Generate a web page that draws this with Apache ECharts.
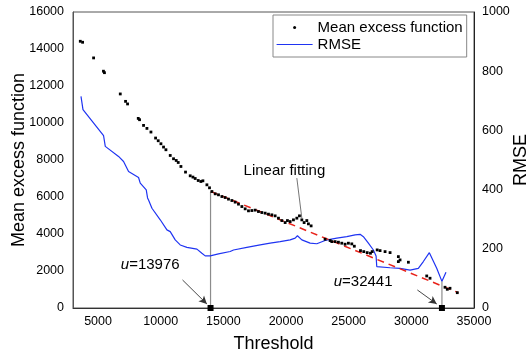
<!DOCTYPE html>
<html>
<head>
<meta charset="utf-8">
<script src="https://cdn.jsdelivr.net/npm/echarts@6/dist/echarts.min.js"></script>
<style>
  html, body { margin: 0; padding: 0; background: #fff; }
  #chart { width: 529px; height: 357px; }
</style>
</head>
<body>
<div id="chart"></div>
<script>
// Mean excess function: threshold and mean excess values
const meThreshold = [3582, 3766, 4643, 5430, 5510, 6772, 7194, 7354, 8207, 8311, 8630, 8900, 9220, 9590, 9800,
  10017, 10225, 10416, 10759, 11022, 11237, 11397, 11612, 11979, 12353, 12570, 12752, 12992, 13206, 13366,
  13685, 13893, 14085, 14348, 14610, 14881, 15144, 15408, 15679, 15942, 16205, 16476, 16739, 17003, 17274,
  17537, 17800, 18071, 18334, 18597, 18868, 19131, 19395, 19666, 19929, 20112, 20328, 20591, 20862, 21070,
  21261, 21444, 21659, 21787, 22002, 23118, 23517, 23653, 23916, 24180, 24450, 24714, 24977, 25248, 25450,
  25941, 26204, 26475, 26738, 26874, 27273, 27504, 27903, 28302, 28964, 29099, 28964, 29763, 31228, 31491,
  32686, 32869, 33085, 33667];
const meValue = [14418, 14364, 13518, 12800, 12720, 11570, 11170, 11030, 10249, 10178, 9870, 9708, 9512, 9187, 9041,
  8879, 8700, 8554, 8245, 8067, 7975, 7866, 7650, 7347, 7146, 7076, 7000, 6892, 6838, 6876,
  6659, 6497, 6297, 6172, 6118, 6026, 5972, 5885, 5810, 5723, 5614, 5484, 5360, 5252, 5268,
  5290, 5214, 5160, 5127, 5073, 5035, 4981, 4856, 4726, 4618, 4726, 4672, 4764, 4856, 4981,
  4764, 4618, 4726, 4548, 4439, 3718, 3646, 3589, 3589, 3557, 3503, 3449, 3503, 3466, 3340,
  3102, 3048, 2994, 2961, 3048, 3140, 3102, 3048, 2994, 2777, 2599, 2507, 2474, 1732, 1608,
  1121, 1012, 1066, 828];

// RMSE of the fit for each threshold
const rmseThreshold = [3638, 3797, 5440, 5576, 6636, 7035, 7434, 8231, 8366, 8845, 8950, 9028, 9300, 9961,
  10495, 10759, 11157, 11556, 12090, 12888, 13286, 13550, 13948, 14610, 15543, 15808, 16872, 17936, 18733,
  19530, 20328, 20727, 20911, 21261, 21921, 22456, 23118, 23517, 24052, 24850, 25511, 25910, 26173, 26572,
  26971, 27186, 27240, 27370, 28302, 29099, 29897, 30558, 30957, 31437, 32025, 32441, 32765];
const rmseValue = [715, 670, 582, 546, 512, 495, 461, 441, 422, 399, 372, 365, 337, 298,
  264, 258, 230, 213, 205, 199, 185, 176, 176, 183, 191, 196, 205, 213, 219,
  224, 230, 236, 244, 230, 219, 217, 228, 232, 236, 241, 247, 249, 241, 219,
  196, 176, 140, 134, 136, 134, 128, 134, 157, 187, 134, 90, 121];

// Linear fitting of the mean excess function above the lower threshold
const fitThreshold = [14000, 33750];
const fitValue = [6300, 830];

// Selected thresholds and the heights their guide lines reach
const thresholdU = [13976, 32441];
const guideMeTop = 6300;   // first guide reaches the mean excess curve (left axis)
const guideRmseTop = 90;   // second guide reaches the RMSE dip (right axis)

// Annotation texts and anchors (threshold, mean excess)
const noteText = ['u=13976', 'u=32441', 'Linear fitting'];
const noteAnchor = [[9164, 2328], [26150, 1424], [19873, 7434]];
const arrowFrom = [[11740, 1516], [30479, 975]];
const arrowTo = [[13685, 217], [32026, 217]];
const leaderFrom = [20862, 7022];
const leaderTo = [21261, 4856];

// Axis tick labels
const xTicks = [5000, 10000, 15000, 20000, 25000, 30000, 35000];

const FONT = 'Liberation Sans, Arial, sans-serif';
const BLUE = '#1f34f2';

const zip = (a, b) => a.map((v, i) => [v, b[i]]);
const plain = (v) => String(v);

const chart = echarts.init(document.getElementById('chart'), null, { renderer: 'canvas' });

const option = {
  animation: false,
  backgroundColor: '#fff',
  textStyle: { fontFamily: FONT },
  grid: {
    left: 73, right: 55, top: 12, bottom: 49,
    containLabel: false,
    outerBoundsMode: 'none',
    show: true, borderColor: '#555', borderWidth: 1, backgroundColor: 'transparent'
  },
  legend: {
    orient: 'vertical',
    left: 273, top: 15,
    width: 197,
    padding: [5, 4, 5, 3],
    itemWidth: 36, itemHeight: 3, itemGap: 2,
    backgroundColor: '#fff',
    borderColor: '#888', borderWidth: 1, borderRadius: 0,
    textStyle: { fontSize: 15, color: '#000', fontFamily: FONT },
    data: [
      { name: 'Mean excess function', icon: 'circle', itemStyle: { color: '#000', opacity: 1 } },
      { name: 'RMSE', itemStyle: { color: 'rgba(0,0,0,0)' }, lineStyle: { color: BLUE, width: 1.2 } }
    ]
  },
  xAxis: {
    type: 'value',
    min: 3000, max: 35000,
    name: 'Threshold',
    nameLocation: 'middle', nameGap: 27, nameMoveOverlap: false,
    nameTextStyle: { fontSize: 18, color: '#000', fontFamily: FONT },
    axisLine: { show: true, onZero: false, lineStyle: { color: '#333', width: 1 } },
    axisTick: { show: false },
    splitLine: { show: false },
    axisLabel: { customValues: xTicks, formatter: plain, fontSize: 12.5, color: '#000', margin: 7, fontFamily: FONT }
  },
  yAxis: [
    {
      type: 'value', min: 0, max: 16000, interval: 2000,
      name: 'Mean excess function',
      nameLocation: 'middle', nameGap: 45, nameRotate: 90, nameMoveOverlap: false,
      nameTextStyle: { fontSize: 18, color: '#000', fontFamily: FONT },
      axisLine: { show: true, lineStyle: { color: '#555', width: 1 } },
      axisTick: { show: false },
      splitLine: { show: false },
      axisLabel: { formatter: plain, fontSize: 12.5, color: '#000', margin: 9, fontFamily: FONT }
    },
    {
      type: 'value', min: 0, max: 1000, interval: 200, position: 'right',
      name: 'RMSE',
      nameLocation: 'middle', nameGap: 38, nameRotate: 90, nameMoveOverlap: false,
      nameTextStyle: { fontSize: 18, color: '#000', fontFamily: FONT },
      axisLine: { show: true, lineStyle: { color: '#222', width: 1 } },
      axisTick: { show: false },
      splitLine: { show: false },
      axisLabel: { formatter: plain, fontSize: 12.5, color: '#000', margin: 8, fontFamily: FONT }
    }
  ],
  series: [
    {
      name: 'RMSE',
      type: 'line',
      yAxisIndex: 1,
      data: zip(rmseThreshold, rmseValue),
      symbol: 'none', showSymbol: false,
      lineStyle: { color: BLUE, width: 1.2 },
      itemStyle: { color: BLUE },
      z: 3
    },
    {
      name: 'Linear fit',
      type: 'line',
      data: zip(fitThreshold, fitValue),
      symbol: 'none',
      lineStyle: { color: '#e8221a', width: 1.5, type: [7, 5] },
      z: 4
    },
    {
      name: 'Mean excess function',
      type: 'scatter',
      data: zip(meThreshold, meValue),
      symbol: 'rect', symbolSize: 2.8,
      itemStyle: { color: '#000', opacity: 1 },
      z: 5
    },
    {
      name: 'Guide u1',
      type: 'line',
      data: [[thresholdU[0], 0], [thresholdU[0], guideMeTop]],
      symbol: 'none',
      lineStyle: { color: '#8c8c8c', width: 1.2 },
      z: 2
    },
    {
      name: 'Guide u2',
      type: 'line',
      yAxisIndex: 1,
      data: [[thresholdU[1], 0], [thresholdU[1], guideRmseTop]],
      symbol: 'none',
      lineStyle: { color: '#8c8c8c', width: 1.2 },
      z: 2
    },
    {
      name: 'Threshold markers',
      type: 'scatter',
      data: thresholdU.map(u => [u, 0]),
      symbol: 'rect', symbolSize: 6,
      itemStyle: { color: '#000', opacity: 1 },
      clip: false,
      z: 10
    },
    {
      name: 'Notes',
      type: 'scatter',
      data: noteAnchor.map((p, i) => ({ value: p, text: noteText[i] })),
      symbolSize: 1,
      itemStyle: { color: 'rgba(0,0,0,0)', opacity: 1 },
      label: {
        show: true,
        position: 'inside',
        fontSize: 15,
        color: '#000',
        fontFamily: FONT,
        formatter: (p) => {
          const t = p.data.text;
          if (t.startsWith('u=')) return '{it|u}{n|' + t.slice(1) + '}';
          return '{n|' + t + '}';
        },
        rich: {
          it: { fontStyle: 'italic', fontSize: 15, color: '#000', fontFamily: FONT },
          n: { fontSize: 15, color: '#000', fontFamily: FONT }
        }
      },
      labelLayout: { hideOverlap: false },
      z: 8,
      markLine: {
        silent: true,
        animation: false,
        label: { show: false },
        lineStyle: { color: '#333', width: 0.9, type: 'solid', opacity: 1 },
        symbol: ['none', 'arrow'],
        symbolSize: [6, 8],
        data: [
          [{ coord: arrowFrom[0] }, { coord: arrowTo[0] }],
          [{ coord: arrowFrom[1] }, { coord: arrowTo[1] }],
          [{ coord: leaderFrom, symbol: 'none' }, { coord: leaderTo, symbol: 'none', lineStyle: { color: '#666', width: 0.9 } }]
        ]
      }
    }
  ]
};

chart.setOption(option);
</script>
</body>
</html>
